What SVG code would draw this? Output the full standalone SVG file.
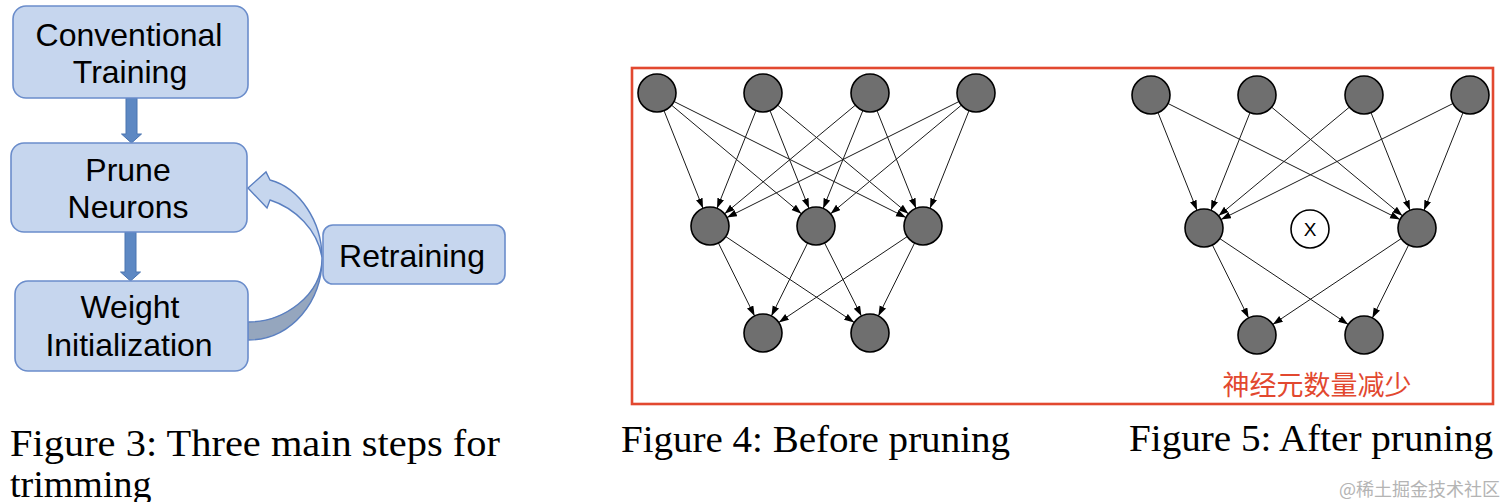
<svg xmlns="http://www.w3.org/2000/svg" width="1512" height="502" viewBox="0 0 1512 502">
  <style>
    .box { fill: #c6d6ee; stroke: #6b8dcb; stroke-width: 1.6; }
    .lbl { font-family: "Liberation Sans", Arial, sans-serif; font-size: 32px; fill: #000; text-anchor: middle; }
    .blk { fill: #5d88c3; stroke: #4a74b0; stroke-width: 1; }
    .nd { fill: #6f6f6f; stroke: #000; stroke-width: 1.6; }
    .edge { stroke: #1a1a1a; stroke-width: 1; fill: none; marker-end: url(#ah); }
    .cap { font-family: "Liberation Serif", "Times New Roman", serif; font-size: 38px; fill: #000; }
  </style>
  <defs>
    <marker id="ah" markerUnits="userSpaceOnUse" markerWidth="11" markerHeight="8" refX="10" refY="3.5" orient="auto">
      <path d="M0,0 L10,3.5 L0,7 Z" fill="#000"/>
    </marker>
  </defs>
  <rect x="0" y="0" width="1512" height="502" fill="#ffffff"/>

  <!-- Figure 3 -->
  <g id="connectors-fig3">
    <path class="blk" d="M126,98 L137,98 L137,134 L141.5,134 L131.5,143 L121.5,134 L126,134 Z"/>
    <path class="blk" d="M125,232 L136,232 L136,272 L140.5,272 L130.5,281 L120.5,272 L125,272 Z"/>
    <path d="M248,322 C283,322 322,296 322,258 C323,300 292,340 248,340 Z" fill="#95a6be" stroke="#5a7fc0" stroke-width="1.4"/>
    <path d="M322,258 C322,222 300,188 270,180 L266,172 L248,188 L267,208 L270,200 C295,208 318,230 322,258 Z" fill="#c6d6ee" stroke="#5a7fc0" stroke-width="1.4"/>
  </g>
  <g id="node-conventional-training">
    <rect class="box" x="13" y="6" width="235" height="92" rx="13"/>
    <text class="lbl" x="129" y="46">Conventional</text>
    <text class="lbl" x="130" y="83">Training</text>
  </g>
  <g id="node-prune-neurons">
    <rect class="box" x="11" y="143" width="236" height="89" rx="13"/>
    <text class="lbl" x="128" y="181">Prune</text>
    <text class="lbl" x="128" y="218">Neurons</text>
  </g>
  <g id="node-weight-initialization">
    <rect class="box" x="15" y="281" width="233" height="90" rx="13"/>
    <text class="lbl" x="130" y="318">Weight</text>
    <text class="lbl" x="129" y="356">Initialization</text>
  </g>
  <g id="node-retraining">
    <rect class="box" x="323" y="225" width="182" height="59" rx="10"/>
    <text class="lbl" x="412" y="267">Retraining</text>
  </g>

  <!-- Red frame -->
  <rect x="632" y="68" width="861" height="336" fill="none" stroke="#e2482f" stroke-width="2.6"/>

  <!-- Figure 4 connectors -->
  <g id="connectors-fig4">
    <line class="edge" x1="664.0" y1="110.65" x2="703.0" y2="208.35"/>
    <line class="edge" x1="671.6" y1="105.2" x2="801.4" y2="213.8"/>
    <line class="edge" x1="674.0" y1="101.5" x2="906.0" y2="217.5"/>
    <line class="edge" x1="756.0" y1="110.65" x2="717.0" y2="208.35"/>
    <line class="edge" x1="770.0" y1="110.65" x2="809.0" y2="208.35"/>
    <line class="edge" x1="777.6" y1="105.15" x2="908.4" y2="213.85"/>
    <line class="edge" x1="855.4" y1="105.15" x2="724.6" y2="213.85"/>
    <line class="edge" x1="862.85" y1="110.6" x2="823.15" y2="208.4"/>
    <line class="edge" x1="877.0" y1="110.65" x2="916.0" y2="208.35"/>
    <line class="edge" x1="959.0" y1="101.5" x2="727.0" y2="217.5"/>
    <line class="edge" x1="961.4" y1="105.15" x2="830.6" y2="213.85"/>
    <line class="edge" x1="969.0" y1="110.65" x2="930.0" y2="208.35"/>
    <line class="edge" x1="718.4" y1="243.0" x2="754.6" y2="316.0"/>
    <line class="edge" x1="725.8" y1="236.6" x2="854.2" y2="322.4"/>
    <line class="edge" x1="807.6" y1="243.0" x2="771.4" y2="316.0"/>
    <line class="edge" x1="824.6" y1="243.0" x2="861.4" y2="316.0"/>
    <line class="edge" x1="907.2" y1="236.6" x2="778.8" y2="322.4"/>
    <line class="edge" x1="914.6" y1="243.0" x2="878.4" y2="316.0"/>
  </g>
  <g id="f4-t1"><circle class="nd" cx="657" cy="93" r="19"/></g>
  <g id="f4-t2"><circle class="nd" cx="763" cy="93" r="19"/></g>
  <g id="f4-t3"><circle class="nd" cx="870" cy="93" r="19"/></g>
  <g id="f4-t4"><circle class="nd" cx="976" cy="93" r="19"/></g>
  <g id="f4-m1"><circle class="nd" cx="710" cy="226" r="19"/></g>
  <g id="f4-m2"><circle class="nd" cx="816" cy="226" r="19"/></g>
  <g id="f4-m3"><circle class="nd" cx="923" cy="226" r="19"/></g>
  <g id="f4-b1"><circle class="nd" cx="763" cy="333" r="19"/></g>
  <g id="f4-b2"><circle class="nd" cx="870" cy="333" r="19"/></g>

  <!-- Figure 5 connectors -->
  <g id="connectors-fig5">
    <line class="edge" x1="1158.0" y1="112.65" x2="1197.0" y2="210.35"/>
    <line class="edge" x1="1168.0" y1="103.5" x2="1400.0" y2="219.5"/>
    <line class="edge" x1="1250.0" y1="112.65" x2="1211.0" y2="210.35"/>
    <line class="edge" x1="1271.6" y1="107.15" x2="1402.4" y2="215.85"/>
    <line class="edge" x1="1349.4" y1="107.15" x2="1218.6" y2="215.85"/>
    <line class="edge" x1="1371.0" y1="112.65" x2="1410.0" y2="210.35"/>
    <line class="edge" x1="1453.0" y1="103.5" x2="1221.0" y2="219.5"/>
    <line class="edge" x1="1463.0" y1="112.65" x2="1424.0" y2="210.35"/>
    <line class="edge" x1="1212.4" y1="245.0" x2="1248.6" y2="318.0"/>
    <line class="edge" x1="1219.8" y1="238.6" x2="1348.2" y2="324.4"/>
    <line class="edge" x1="1401.2" y1="238.6" x2="1272.8" y2="324.4"/>
    <line class="edge" x1="1408.6" y1="245.0" x2="1372.4" y2="318.0"/>
  </g>
  <g id="f5-t1"><circle class="nd" cx="1151" cy="95" r="19"/></g>
  <g id="f5-t2"><circle class="nd" cx="1257" cy="95" r="19"/></g>
  <g id="f5-t3"><circle class="nd" cx="1364" cy="95" r="19"/></g>
  <g id="f5-t4"><circle class="nd" cx="1470" cy="95" r="19"/></g>
  <g id="f5-m1"><circle class="nd" cx="1204" cy="228" r="19"/></g>
  <g id="f5-m2-removed">
    <circle cx="1310" cy="229" r="19" fill="#ffffff" stroke="#000" stroke-width="1.6"/>
    <text x="1310" y="236" font-family="Liberation Sans, Arial, sans-serif" font-size="19" text-anchor="middle" fill="#000">X</text>
  </g>
  <g id="f5-m3"><circle class="nd" cx="1417" cy="228" r="19"/></g>
  <g id="f5-b1"><circle class="nd" cx="1257" cy="335" r="19"/></g>
  <g id="f5-b2"><circle class="nd" cx="1364" cy="335" r="19"/></g>

  <text x="1317" y="395" font-family="'Noto Sans CJK SC', sans-serif" font-size="27" fill="#e2482f" text-anchor="middle">神经元数量减少</text>

  <!-- Captions -->
  <text class="cap" x="10" y="456" textLength="490" lengthAdjust="spacingAndGlyphs">Figure 3: Three main steps for</text>
  <text class="cap" x="10" y="497">trimming</text>
  <text class="cap" x="621" y="452" textLength="389" lengthAdjust="spacingAndGlyphs">Figure 4: Before pruning</text>
  <text class="cap" x="1129" y="451" textLength="364" lengthAdjust="spacingAndGlyphs">Figure 5: After pruning</text>
  <text x="1500" y="496" font-family="'Noto Sans CJK SC', sans-serif" font-size="18" fill="#b4b4b4" text-anchor="end">@稀土掘金技术社区</text>
</svg>
